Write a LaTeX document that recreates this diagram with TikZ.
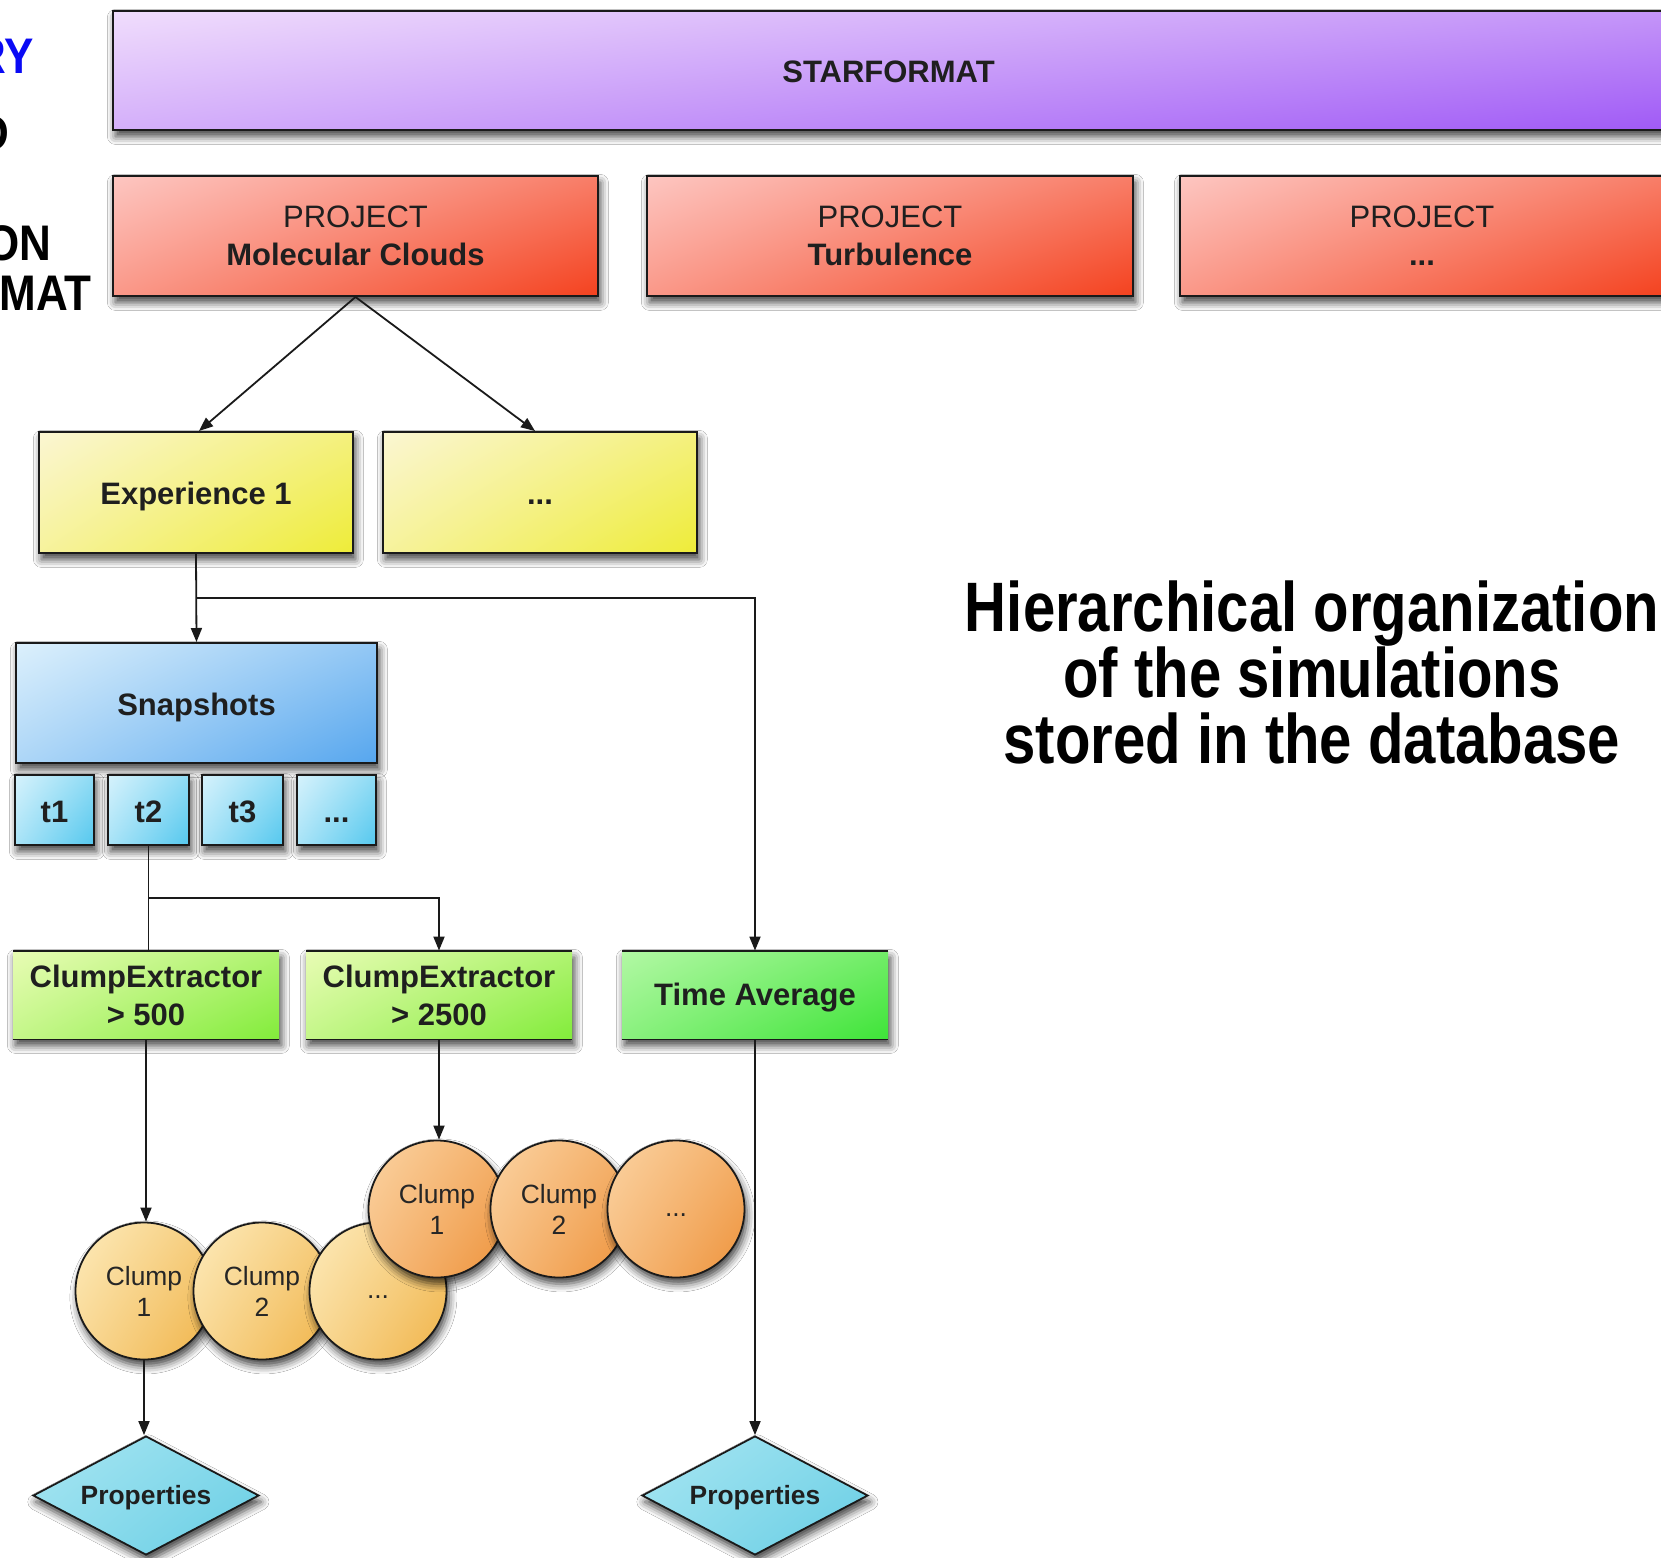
\documentclass[tikz,border=0pt]{standalone}
\usepackage{fontspec}
\setmainfont{Liberation Sans}
\newfontfamily\condfont[FakeStretch=0.83]{Liberation Sans}
\newfontfamily\sidefont[FakeStretch=0.88]{Liberation Sans}
\usetikzlibrary{shapes.geometric,arrows.meta,shadows.blur,shadings}

\definecolor{stL}{HTML}{F0DDFC}
\definecolor{stD}{HTML}{A05AF6}
\definecolor{pjL}{HTML}{FDC6C1}
\definecolor{pjD}{HTML}{F4421F}
\definecolor{exL}{HTML}{FBF6D2}
\definecolor{exD}{HTML}{EEEC38}
\definecolor{snL}{HTML}{DCF0FC}
\definecolor{snD}{HTML}{56A6EE}
\definecolor{tL}{HTML}{D6F2FC}
\definecolor{tD}{HTML}{55C8EE}
\definecolor{ceL}{HTML}{E8FCB4}
\definecolor{ceD}{HTML}{82EC3A}
\definecolor{taL}{HTML}{B2F8A4}
\definecolor{taD}{HTML}{3EE438}
\definecolor{clL}{HTML}{FDEBBB}
\definecolor{clD}{HTML}{F0B348}
\definecolor{cuL}{HTML}{FBD3A2}
\definecolor{cuD}{HTML}{EE933C}
\definecolor{prL}{HTML}{A8E6F2}
\definecolor{prD}{HTML}{66CDE4}
\definecolor{edge}{HTML}{1A1A1A}
\definecolor{slideblue}{HTML}{0A0AF5}

\tikzset{
  grad/.style 2 args={upper left=#1, lower right=#2, upper right=#1!45!#2, lower left=#1!65!#2},
  sh/.style={blur shadow={shadow xshift=1.2pt, shadow yshift=-3.2pt, shadow blur radius=4pt, shadow opacity=75}},
  sz/.style 2 args={minimum width=#1*0.5pt, minimum height=#2*0.5pt},
  oneline/.style={text height=#1, text depth=0pt},
  oneline/.default={0.72em},
  lblfont/.style={font=\fontsize{15.5}{19}\selectfont},
  boxbase/.style={rectangle, draw=edge, line width=1pt, inner sep=0pt, align=center, text=black!88, lblfont, sh},
  bbox/.style={boxbase, oneline=1.24em, font=\bfseries\fontsize{15.5}{19}\selectfont},
  gbox/.style={rectangle, draw=none, inner sep=0pt, align=center, text=black!88, font=\bfseries\fontsize{15.5}{19}\selectfont, sh},
  clump/.style={circle, draw=edge, line width=0.9pt, minimum size=137*0.5pt, inner sep=0pt, align=center, text=black!85, font=\fontsize{13.2}{15.5}\selectfont, sh},
  prop/.style={diamond, draw=edge, line width=0.9pt, aspect=1.9, minimum width=226*0.5pt, minimum height=119*0.5pt, inner sep=0pt, oneline=0.86em, grad={prL}{prD}, text=black!88, font=\bfseries\fontsize{13.2}{15.5}\selectfont, sh},
  arr/.style={draw=edge, line width=0.9pt, -{Triangle[length=7pt,width=5.5pt]}},
  ln/.style={draw=edge, line width=0.9pt},
  bigtxt/.style={anchor=base, inner sep=0pt, font=\condfont\bfseries\fontsize{35}{33}\selectfont},
  sidetxt/.style={anchor=base east, inner sep=0pt, font=\sidefont\bfseries\fontsize{25}{25}\selectfont}
}

\begin{document}
\begin{tikzpicture}[x=0.5pt, y=-0.5pt]
\useasboundingbox (0,0) rectangle (1661,1558);
\fill[white] (0,0) rectangle (1661,1558);

% cut-off slide text on the left
\node[sidetxt, text=slideblue] (ry) at (34,73) {RY};
\node[sidetxt] (dd) at (10,150) {D};
\node[sidetxt] (on) at (52,260) {ON};
\node[sidetxt] (mat) at (92,310) {MAT};

% top level
\node[bbox, grad={stL}{stD}, sz={1551}{119}] (star) at (888.5,70.5) {STARFORMAT};

% projects
\node[boxbase, grad={pjL}{pjD}, sz={485}{120}] (p1) at (355.5,236) {PROJECT\\\textbf{Molecular Clouds}};
\node[boxbase, grad={pjL}{pjD}, sz={486}{120}] (p2) at (890,236) {PROJECT\\\textbf{Turbulence}};
\node[boxbase, grad={pjL}{pjD}, sz={484}{120}] (p3) at (1422,236) {PROJECT\\\textbf{...}};

% experiences
\node[bbox, grad={exL}{exD}, sz={314}{121}] (e1) at (196,492.5) {Experience 1};
\node[bbox, grad={exL}{exD}, sz={314}{121}] (e2) at (540,492.5) {...};

% snapshots
\node[bbox, grad={snL}{snD}, sz={361}{120}] (snap) at (196.5,703) {Snapshots};
\node[bbox, grad={tL}{tD}, sz={79}{70}] (t1) at (54.5,810) {t1};
\node[bbox, grad={tL}{tD}, sz={81}{70}] (t2) at (148.5,810) {t2};
\node[bbox, grad={tL}{tD}, sz={81}{70}] (t3) at (242.5,810) {t3};
\node[bbox, grad={tL}{tD}, sz={79}{70}] (t4) at (336.5,810) {...};

% extractors
\node[gbox, grad={ceL}{ceD}, sz={266}{88}] (ce1) at (146,995) {ClumpExtractor\\> 500};
\node[gbox, grad={ceL}{ceD}, sz={266}{88}] (ce2) at (439,995) {ClumpExtractor\\> 2500};
\node[gbox, oneline=1.0em, grad={taL}{taD}, sz={266}{88}] (ta) at (755,995) {Time Average};
\foreach \n in {ce1,ce2,ta}{
  \draw[ln] (\n.north west) -- (\n.north east);
  \draw[ln] (\n.south west) -- (\n.south east);
}

% clumps (lower row)
\node[clump, grad={clL}{clD}] (lc1) at (144,1291) {Clump\\1};
\node[clump, grad={clL}{clD}] (lc2) at (262,1291) {Clump\\2};
\node[clump, oneline, grad={clL}{clD}] (lc3) at (378,1291) {...};
% clumps (upper row)
\node[clump, grad={cuL}{cuD}] (uc1) at (437,1209) {Clump\\1};
\node[clump, grad={cuL}{cuD}] (uc2) at (559,1209) {Clump\\2};
\node[clump, oneline, grad={cuL}{cuD}] (uc3) at (676,1209) {...};

% properties
\node[prop] (d1) at (146,1495.5) {Properties};
\node[prop] (d2) at (755,1495.5) {Properties};

% connectors
\draw[arr] (p1.south) -- ([xshift=1.5pt]e1.north);
\draw[arr] (p1.south) -- ([xshift=-2.5pt]e2.north);
\draw[arr] (e1.south) -- (snap.north);
\coordinate (br1) at (e1.south |- 0,598);
\draw[arr] (br1) -| (ta.north);
\draw[ln] (t2.south) -- (t2.south |- ce1.north);
\coordinate (br2) at (t2.south |- 0,898);
\draw[arr] (br2) -| (ce2.north);
\draw[arr] (ce1.south) -- (ce1.south |- lc1.north);
\draw[arr] (ce2.south) -- (ce2.south |- uc1.north);
\draw[arr] (ta.south) -- (d2.north);
\draw[arr] (lc1.south) -- (lc1.south |- d1.north);

% caption
\node[bigtxt] (h1) at (1312,631) {Hierarchical organization};
\node[bigtxt] (h2) at (1312,697) {of the simulations};
\node[bigtxt] (h3) at (1312,763) {stored in the database};
\end{tikzpicture}
\end{document}
